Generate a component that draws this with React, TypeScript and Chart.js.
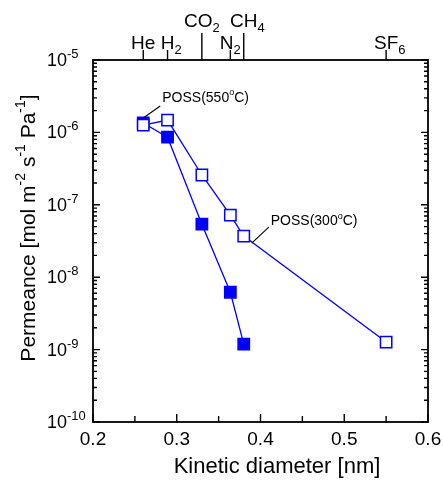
import React, { useEffect, useRef } from "react";
import { Chart, registerables } from "chart.js";

Chart.register(...registerables);

// ---- data ----
const diameters300 = [0.26, 0.289, 0.33, 0.364, 0.38, 0.55];
const permeance300 = [1.26e-6, 1.48e-6, 2.58e-7, 7.2e-8, 3.7e-8, 1.27e-9];
const diameters550 = [0.26, 0.289, 0.33, 0.364, 0.38];
const permeance550 = [1.35e-6, 8.6e-7, 5.4e-8, 6.2e-9, 1.19e-9];

const gasNames = ["He", "H", "CO", "N", "CH", "SF"];
const gasSubs = ["", "2", "2", "2", "4", "6"];
const gasDiameters = [0.26, 0.289, 0.33, 0.364, 0.38, 0.55];
const gasRaised = [false, false, true, false, true, false];
const gasCenterMain = [true, true, false, false, true, true];

const xTickValues = [0.2, 0.3, 0.4, 0.5, 0.6];
const xMinorValues = [0.25, 0.35, 0.45, 0.55];
const yExponents = [-5, -6, -7, -8, -9, -10];

const FONT = '"Liberation Sans", Arial, Helvetica, sans-serif';
const BLUE = "#0000ff";

function font(size: number) {
  return `${size}px ${FONT}`;
}

const framePlugin = {
  id: "framePlugin",
  afterDraw(chart: any) {
    const ctx = chart.ctx as CanvasRenderingContext2D;
    const xs = chart.scales.x;
    const ys = chart.scales.y;
    const { left, right, top, bottom } = chart.chartArea;
    ctx.save();
    ctx.strokeStyle = "#000";
    ctx.fillStyle = "#000";
    ctx.lineWidth = 1.8;
    ctx.strokeRect(left, top, right - left, bottom - top);

    // x ticks (bottom, inward)
    ctx.lineWidth = 1.4;
    ctx.beginPath();
    xTickValues.forEach((v) => {
      const px = xs.getPixelForValue(v);
      ctx.moveTo(px, bottom);
      ctx.lineTo(px, bottom - 8);
    });
    xMinorValues.forEach((v) => {
      const px = xs.getPixelForValue(v);
      ctx.moveTo(px, bottom);
      ctx.lineTo(px, bottom - 6);
    });
    // y ticks (left and right, inward)
    yExponents.forEach((e) => {
      const py = ys.getPixelForValue(Math.pow(10, e));
      ctx.moveTo(left, py);
      ctx.lineTo(left + 7, py);
      ctx.moveTo(right, py);
      ctx.lineTo(right - 7, py);
      for (let m = 2; m <= 9; m++) {
        const v = m * Math.pow(10, e);
        if (v > 1e-5) continue;
        const pm = ys.getPixelForValue(v);
        ctx.moveTo(left, pm);
        ctx.lineTo(left + 4, pm);
        ctx.moveTo(right, pm);
        ctx.lineTo(right - 4, pm);
      }
    });
    // top gas ticks (outward)
    gasDiameters.forEach((d, i) => {
      const px = xs.getPixelForValue(d);
      ctx.moveTo(px, top);
      ctx.lineTo(px, top - (gasRaised[i] ? 27 : 10));
    });
    ctx.stroke();

    // x tick labels
    ctx.font = font(19);
    ctx.textAlign = "center";
    ctx.textBaseline = "middle";
    xTickValues.forEach((v) => {
      ctx.fillText(v.toFixed(1), xs.getPixelForValue(v), bottom + 18);
    });

    // y tick labels 10^e
    yExponents.forEach((e) => {
      const py = ys.getPixelForValue(Math.pow(10, e));
      ctx.textAlign = "left";
      ctx.textBaseline = "middle";
      ctx.font = font(18);
      const lx = 47;
      ctx.fillText("10", lx, py + 1);
      const w = ctx.measureText("10").width;
      ctx.font = font(13);
      ctx.textBaseline = "alphabetic";
      ctx.fillText(String(e), lx + w, py - 2);
    });

    // gas labels on top
    gasDiameters.forEach((d, i) => {
      const px = xs.getPixelForValue(d);
      const base = gasRaised[i] ? 27 : 49;
      ctx.font = font(19);
      const wMain = ctx.measureText(gasNames[i]).width;
      ctx.font = font(13);
      const wSub = gasSubs[i] ? ctx.measureText(gasSubs[i]).width : 0;
      const x0 = gasCenterMain[i] ? px - wMain / 2 : px - (wMain + wSub) / 2;
      ctx.textAlign = "left";
      ctx.textBaseline = "alphabetic";
      ctx.font = font(19);
      ctx.fillText(gasNames[i], x0, base);
      if (gasSubs[i]) {
        ctx.font = font(13);
        ctx.fillText(gasSubs[i], x0 + wMain, base + 5);
      }
    });

    // axis titles
    ctx.font = font(22);
    ctx.textAlign = "center";
    ctx.textBaseline = "middle";
    ctx.fillText("Kinetic diameter [nm]", 277, 467);

    // y title with superscripts (rotated)
    const parts: [string, boolean][] = [
      ["Permeance [mol m", false],
      ["-2", true],
      [" s", false],
      ["-1", true],
      [" Pa", false],
      ["-1", true],
      ["]", false],
    ];
    const big = 21;
    const small = 14;
    let total = 0;
    parts.forEach(([t, sup]) => {
      ctx.font = font(sup ? small : big);
      total += ctx.measureText(t).width;
    });
    ctx.save();
    ctx.translate(29, 228);
    ctx.rotate(-Math.PI / 2);
    ctx.textAlign = "left";
    ctx.textBaseline = "middle";
    let cx = -total / 2;
    parts.forEach(([t, sup]) => {
      ctx.font = font(sup ? small : big);
      ctx.fillText(t, cx, sup ? -8 : 0);
      cx += ctx.measureText(t).width;
    });
    ctx.restore();

    // annotations
    const drawDegLabel = (x: number, y: number, temp: string) => {
      ctx.textAlign = "left";
      ctx.textBaseline = "middle";
      ctx.font = font(14);
      const a = `POSS(${temp}`;
      ctx.fillText(a, x, y);
      let w = ctx.measureText(a).width;
      ctx.font = font(9);
      ctx.fillText("o", x + w, y - 5);
      w += ctx.measureText("o").width;
      ctx.font = font(14);
      ctx.fillText("C)", x + w, y);
    };
    ctx.lineWidth = 1.1;
    const hx = xs.getPixelForValue(diameters550[0]);
    const hy = ys.getPixelForValue(permeance550[0]);
    ctx.beginPath();
    ctx.moveTo(hx, hy - 5);
    ctx.lineTo(hx + 17, hy - 17);
    ctx.stroke();
    drawDegLabel(hx + 19, hy - 25, "550");

    const cxp = xs.getPixelForValue(diameters300[4]);
    const cyp = ys.getPixelForValue(permeance300[4]);
    ctx.beginPath();
    ctx.moveTo(cxp + 8, cyp + 7);
    ctx.lineTo(cxp + 25, cyp - 9);
    ctx.stroke();
    drawDegLabel(cxp + 27, cyp - 15, "300");

    ctx.restore();
  },
};

export default function App() {
  const ref = useRef<HTMLCanvasElement | null>(null);
  useEffect(() => {
    if (!ref.current) return;
    const chart = new Chart(ref.current, {
      type: "scatter",
      data: {
        datasets: [
          {
            label: "POSS(300ºC)",
            data: diameters300.map((x, i) => ({ x, y: permeance300[i] })),
            showLine: true,
            borderColor: BLUE,
            backgroundColor: "#ffffff",
            borderWidth: 1.3,
            pointStyle: "rect",
            pointRadius: 8,
            pointBorderWidth: 1.5,
            pointBorderColor: BLUE,
            pointBackgroundColor: "#ffffff",
          },
          {
            label: "POSS(550ºC)",
            data: diameters550.map((x, i) => ({ x, y: permeance550[i] })),
            showLine: true,
            borderColor: BLUE,
            backgroundColor: BLUE,
            borderWidth: 1.3,
            pointStyle: "rect",
            pointRadius: 8,
            pointBorderWidth: 1.5,
            pointBorderColor: BLUE,
            pointBackgroundColor: BLUE,
          },
        ],
      },
      options: {
        animation: false,
        responsive: false,
        devicePixelRatio: 1,
        layout: { padding: { left: 93, top: 60, right: 15, bottom: 60 } },
        plugins: { legend: { display: false }, tooltip: { enabled: false } },
        scales: {
          x: { type: "linear", min: 0.2, max: 0.6, display: false },
          y: { type: "logarithmic", min: 1e-10, max: 1e-5, display: false },
        },
      },
      plugins: [framePlugin],
    });
    return () => chart.destroy();
  }, []);
  return (
    <div style={{ position: "absolute", left: 0, top: 0, width: 443, height: 482, background: "#fff" }}>
      <canvas ref={ref} width={443} height={482} style={{ width: 443, height: 482 }} />
    </div>
  );
}
